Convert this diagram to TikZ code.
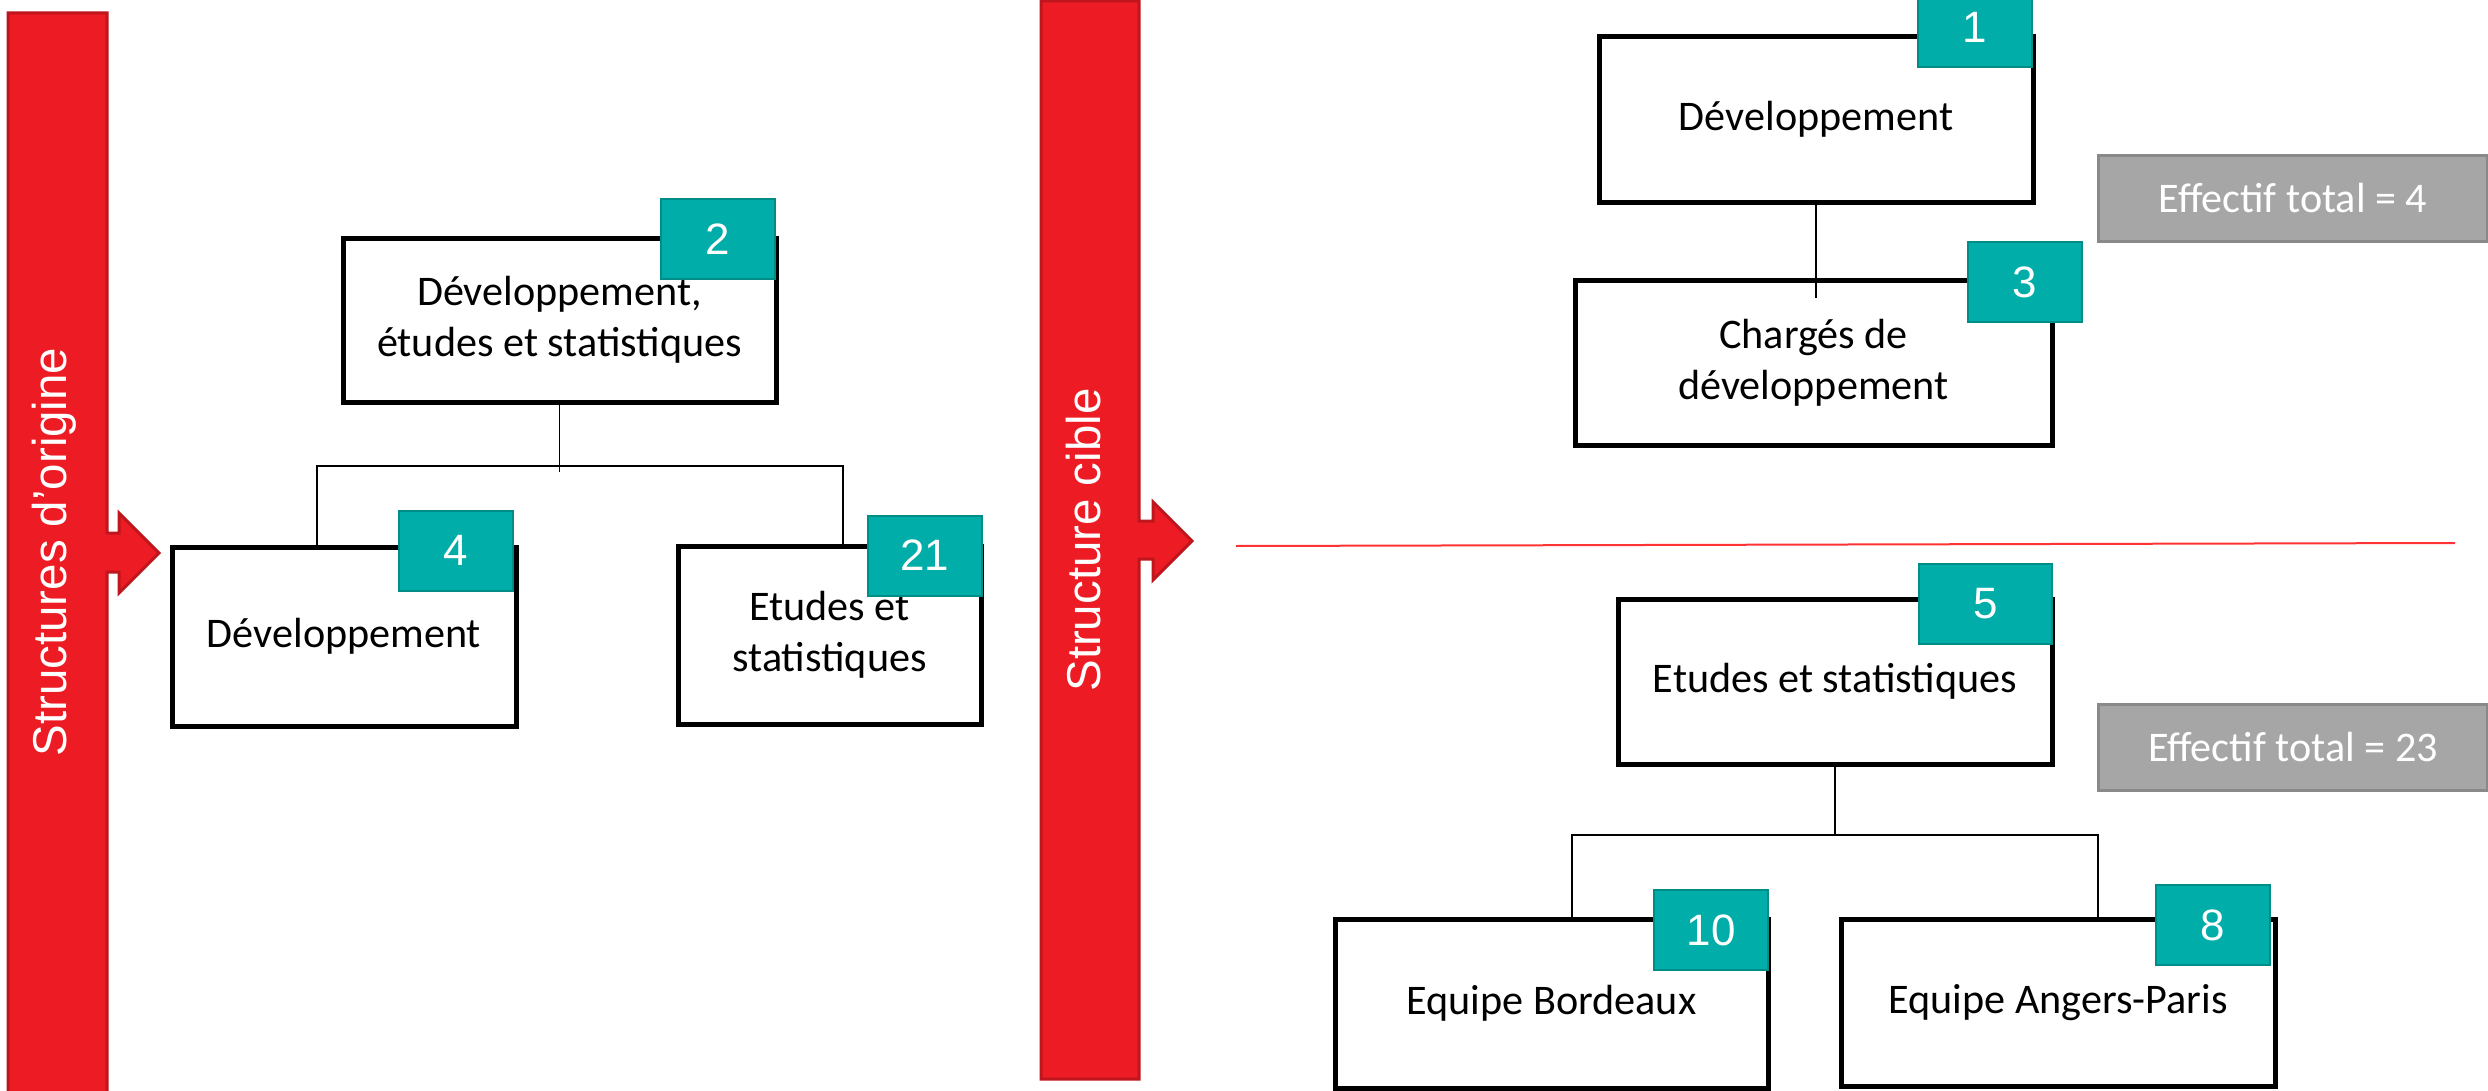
\documentclass[tikz,border=0pt]{standalone}
\usepackage{fontspec}
\setmainfont{Carlito}
\newfontfamily\arialfont{Liberation Sans}
\usetikzlibrary{calc}
\definecolor{barred}{RGB}{237,28,36}
\definecolor{barredline}{RGB}{190,22,28}
\definecolor{badgeteal}{RGB}{0,173,168}
\definecolor{badgeline}{RGB}{0,140,135}
\definecolor{totalgray}{RGB}{166,166,166}
\definecolor{totalline}{RGB}{137,137,137}
\tikzset{
	unitbox/.style={draw=black, line width=0.5mm, fill=white, align=center, inner sep=0pt, font=\fontsize{12}{14.5}\selectfont},
	badge/.style={draw=badgeline, line width=0.2mm, fill=badgeteal, text=white, minimum width=1.14cm, minimum height=0.8cm, inner sep=0pt, font=\arialfont\fontsize{12.5}{14}\selectfont},
	totalbox/.style={draw=totalline, line width=0.3mm, fill=totalgray, text=white, minimum width=3.89cm, minimum height=0.86cm, inner sep=0pt, font=\fontsize{12}{14}\selectfont},
	link/.style={line width=0.15mm},
	bartext/.style={rotate=90, anchor=base, text=white, font=\arialfont\fontsize{13.5}{16}\selectfont}
}

\begin{document}
\begin{tikzpicture}
			%%%%% START %%%%%
			\useasboundingbox (0, 0) rectangle (24.88, 10.90);
			
			% red bars with arrows
			\draw[line width=0.3mm, draw=barredline, fill=barred] (0.08, 10.77) -- (1.07, 10.77) -- (1.07, 5.57) -- (1.19, 5.57) -- (1.19, 5.77) -- (1.59, 5.37) -- (1.19, 4.97) -- (1.19, 5.18) -- (1.07, 5.18) -- (1.07, -0.2) -- (0.08, -0.2) -- cycle;
			\node[bartext] (origtxt) at (0.67, 5.38) {Structures d’origine};
			
			\draw[line width=0.3mm, draw=barredline, fill=barred] (10.41, 10.89) -- (11.39, 10.89) -- (11.39, 5.69) -- (11.53, 5.69) -- (11.53, 5.88) -- (11.92, 5.49) -- (11.53, 5.10) -- (11.53, 5.31) -- (11.39, 5.31) -- (11.39, 0.11) -- (10.41, 0.11) -- cycle;
			\node[bartext] (cibletxt) at (11.00, 5.50) {Structure cible};
			
			% structures d'origine
			\node[unitbox, minimum width=4.33cm, minimum height=1.64cm] (topL) at (5.595, 7.70) {Développement,\\études et statistiques};
			\node[unitbox, minimum width=3.44cm, minimum height=1.79cm] (devL) at (3.44, 4.535) {Développement};
			\node[unitbox, minimum width=3.03cm, minimum height=1.78cm] (etuL) at (8.295, 4.55) {Etudes et\\statistiques};
			
			\coordinate (jl) at (3.17, 6.24);
			\coordinate (jr) at (8.43, 6.24);
			\draw[link] (topL.south) -- ($(topL.south |- jl)+(0,-0.06)$);
			\draw[link] (devL.north -| jl) -- (jl) -- (jr) -- (etuL.north -| jr);
			
			\node[badge] (n2) at (7.175, 8.51) {2};
			\node[badge] (n4) at (4.56, 5.395) {4};
			\node[badge] (n21) at (9.245, 5.345) {21};
			
			% structure cible
			\draw[line width=0.2mm, color=red!80] (12.36, 5.44) -- (24.55, 5.47);
			
			\node[unitbox, minimum width=4.34cm, minimum height=1.65cm] (devR) at (18.16, 9.705) {Développement};
			\node[unitbox, minimum width=4.77cm, minimum height=1.65cm] (charg) at (18.135, 7.275) {Chargés de\\développement};
			\draw[link] (devR.south) -- ($(devR.south |- charg.north)+(0,-0.2)$);
			
			\node[badge] (n1) at (19.75, 10.63) {1};
			\node[badge] (n3) at (20.25, 8.08) {3};
			\node[totalbox] (tot4) at (22.93, 8.92) {Effectif total = 4};
			
			\node[unitbox, minimum width=4.34cm, minimum height=1.65cm] (etuR) at (18.35, 4.085) {Etudes et statistiques};
			\node[unitbox, minimum width=4.33cm, minimum height=1.69cm] (bord) at (15.515, 0.865) {Equipe Bordeaux};
			\node[unitbox, minimum width=4.34cm, minimum height=1.67cm] (ang) at (20.58, 0.875) {Equipe Angers-Paris};
			
			\coordinate (jbl) at (15.72, 2.55);
			\coordinate (jbr) at (20.98, 2.55);
			\draw[link] (etuR.south) -- (etuR.south |- jbl);
			\draw[link] (bord.north -| jbl) -- (jbl) -- (jbr) -- (ang.north -| jbr);
			
			\node[badge, minimum width=1.33cm] (n5) at (19.855, 4.865) {5};
			\node[badge] (n10) at (17.11, 1.60) {10};
			\node[badge] (n8) at (22.13, 1.65) {8};
			\node[totalbox] (tot23) at (22.93, 3.425) {Effectif total = 23};
			
			%%%%% END %%%%%
\end{tikzpicture}
\end{document}
